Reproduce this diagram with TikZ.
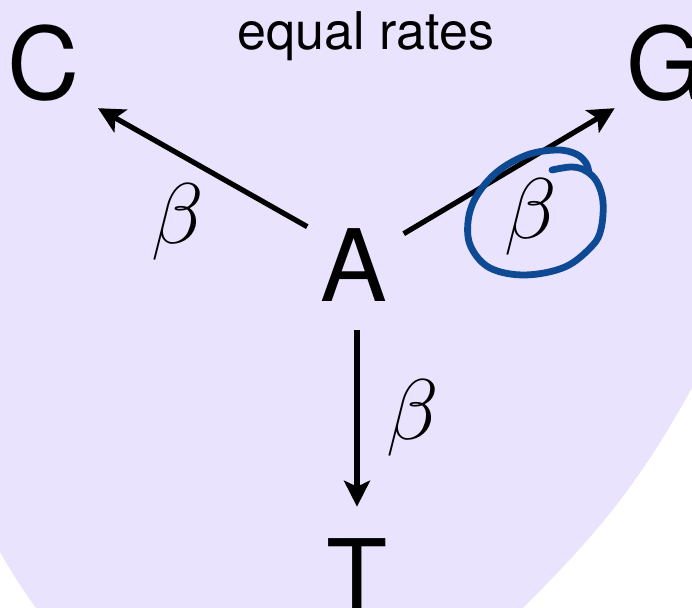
\documentclass[tikz,border=0pt]{standalone}
\usepackage{fontspec}
\setmainfont{TeX Gyre Heros}
\usetikzlibrary{arrows.meta}
\definecolor{RateLilac}{HTML}{E9E3FD}
\definecolor{PenBlue}{HTML}{0E4A94}

\begin{document}
\begin{tikzpicture}[
    x=0.5pt, y=0.5pt,
    base/.style={inner sep=3pt, anchor=base, font=\fontsize{50}{50}\selectfont},
    rate/.style={inner sep=0pt, font=\Huge, scale=1.73},
    arrow/.style={-{Stealth[length=13pt, width=13pt, inset=3pt]}, line width=2.6pt, color=black},
    scribble/.style={draw=PenBlue, line width=3.4pt, line cap=round, line join=round}
  ]
    \useasboundingbox (0,0) rectangle (692,608);
    % lilac background blob
    \fill[RateLilac] (0,608) -- (692,608) -- (692,220)
      to[out=-119, in=45] (523,0) -- (36,0) to[out=126, in=-60] (0,56) -- cycle;
    \node[font=\fontsize{26}{26}\selectfont, anchor=base] (title) at (366,558) {equal rates};
    \node[base] (A) at (353.5,306) {A};
    \node[base] (C) at (43.5,508) {C};
    \node[base] (G) at (665,508) {G};
    \node[base] (T) at (357,-4) {T};
    \draw[arrow] ([xshift=-3.25pt, yshift=-2pt]A.north west) -- ([xshift=6pt]C.south east);
    \draw[arrow] ([xshift=5.25pt, yshift=-5.5pt]A.north east) -- ([xshift=-2.5pt]G.south west);
    \draw[arrow, shorten <=11pt, shorten >=13pt] (A.south -| T.north) -- (T.north);
    \node[rate] (bC) at (178,386) {$\beta$};
    \node[rate] (bT) at (413,190) {$\beta$};
    \node[rate] (bG) at (531,391) {$\beta$};
    % hand drawn ring round the G rate
    \begin{scope}[shift={(bG)}]
      \draw[scribble] plot[smooth, tension=0.6] coordinates {
        (21,47) (41,50) (55,46) (66,35) (72,15) (70,-12) (61,-29) (34,-50)
        (-6,-58) (-41,-51) (-60,-30) (-63,-5) (-55,20) (-34,45) (-4,62)
        (26,67) (45,63) (55,54) (58,44)};
    \end{scope}
\end{tikzpicture}
\end{document}
